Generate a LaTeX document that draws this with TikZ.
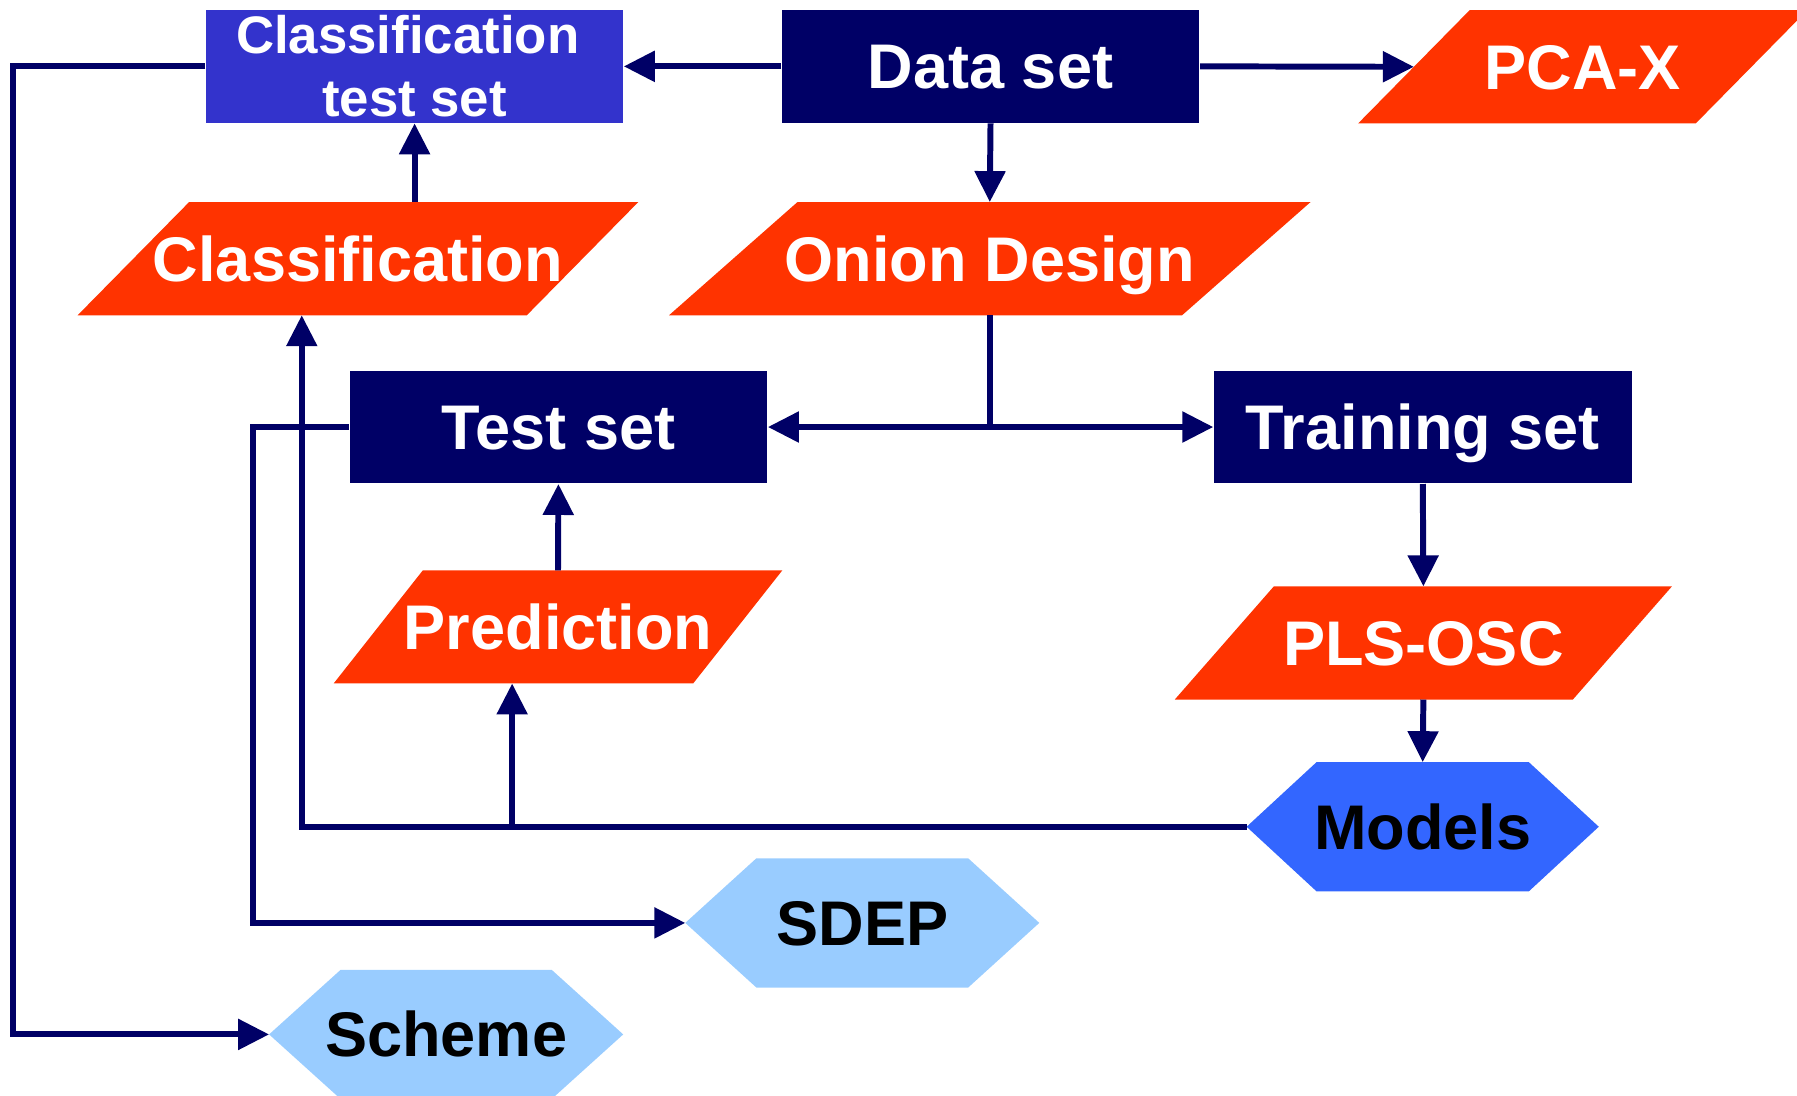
\documentclass[tikz,border=0pt]{standalone}
\usepackage{fontspec}
\setmainfont{Liberation Sans}
\usetikzlibrary{arrows.meta,backgrounds}

\definecolor{navy}{HTML}{000066}
\definecolor{ctsblue}{HTML}{3333CC}
\definecolor{stepred}{HTML}{FF3300}
\definecolor{modelblue}{HTML}{3366FF}
\definecolor{paleblue}{HTML}{99CCFF}

% parallelogram fill behind a rectangular node: #1 node, #2 half slant, #3 colour
\newcommand\fillslant[3]{%
  \fill[#3] ([xshift=-#2]#1.south west) -- ([xshift=#2]#1.north west)
    -- ([xshift=#2]#1.north east) -- ([xshift=-#2]#1.south east) -- cycle;}
% hexagon fill behind a rectangular node: #1 node, #2 point depth, #3 colour
\newcommand\fillhex[3]{%
  \fill[#3] (#1.west) -- ([xshift=#2]#1.north west) -- ([xshift=-#2]#1.north east)
    -- (#1.east) -- ([xshift=-#2]#1.south east) -- ([xshift=#2]#1.south west) -- cycle;}

\tikzset{
  lbl/.style={rectangle, inner sep=0pt, font=\fontsize{15.65}{18.8}\selectfont\bfseries,
    text height=11.2pt, text depth=0pt},
  box/.style={lbl, fill=navy, text=white, minimum width=3.64cm, minimum height=0.98cm},
  para/.style={lbl, text=white, minimum height=0.973cm},
  hexa/.style={lbl, text=black, minimum height=1.113cm},
  link/.style={draw=navy, line width=0.052cm},
  flow/.style={link, -{Triangle[length=0.27cm,width=0.26cm]}}
}

\begin{document}
\begin{tikzpicture}[x=0.01cm,y=-0.01cm]
\useasboundingbox (0,0) rectangle (1568,956.3);
\clip (0,0) rectangle (1568,956.3);

% process boxes
\node[box] (ds) at (864.3,57.9) {Data set};
\node[box, fill=ctsblue, minimum width=3.635cm, text height=25pt] (cts) at (361.75,57.9)
  {\fontsize{13.1}{15.7}\selectfont\parbox[b]{3.5cm}{\centering
    \makebox[0pt]{\kern-0.12cm Classification}\\test set}};
\node[box] (test) at (487.25,372.6) {Test set};
\node[box] (train) at (1241.5,372.6) {Training set};

% method steps (parallelograms)
\node[para, minimum width=2.93cm] (pca) at (1381,58.3) {PCA-X};
\node[para, minimum width=3.903cm] (cls) at (312.35,225.7) {Classification};
\node[para, minimum width=4.46cm] (onion) at (863.65,225.7) {Onion Design};
\node[para, minimum width=3.121cm] (pred) at (486.9,547) {Prediction};
\node[para, minimum width=3.4575cm] (pls) at (1242,561) {PLS-OSC};

% results (hexagons)
\node[hexa, minimum width=3.057cm] (models) at (1241.4,721.4) {Models};
\node[hexa, minimum width=3.073cm] (sdep) at (752.4,805.3) {SDEP};
\node[hexa, minimum width=3.074cm] (scheme) at (389.3,902.6) {Scheme};

\begin{pgfonlayer}{background}
  \fillslant{pca}{0.486cm}{stepred}
  \fillslant{cls}{0.486cm}{stepred}
  \fillslant{onion}{0.56cm}{stepred}
  \fillslant{pred}{0.389cm}{stepred}
  \fillslant{pls}{0.432cm}{stepred}
  \fillhex{models}{0.61cm}{modelblue}
  \fillhex{sdep}{0.62cm}{paleblue}
  \fillhex{scheme}{0.624cm}{paleblue}
\end{pgfonlayer}

% connectors
\draw[flow] (ds.west) -- (cts.east);
\draw[flow] (ds.east) -- (pca.west);
\draw[flow] (ds.south) -- (onion.north);
\draw[flow] (cts.south |- cls.north) -- (cts.south);
\draw[flow] (onion.south) |- (test.east);
\draw[flow] (onion.south) |- (train.west);
\draw[flow] (train.south) -- (pls.north);
\draw[flow] (pls.south) -- (models.north);
\draw[flow] (pred.north) -- (test.south);
\draw[flow] (models.west) -| ([xshift=-0.49cm]cls.south);
\draw[flow] ([xshift=-0.4cm]pred.south |- models.west) -- ([xshift=-0.4cm]pred.south);
\draw[flow] (test.west) -- ++(-84,0) |- (sdep.west);
\draw[flow] (cts.west) -- ++(-167.5,0) |- (scheme.west);
\end{tikzpicture}
\end{document}
